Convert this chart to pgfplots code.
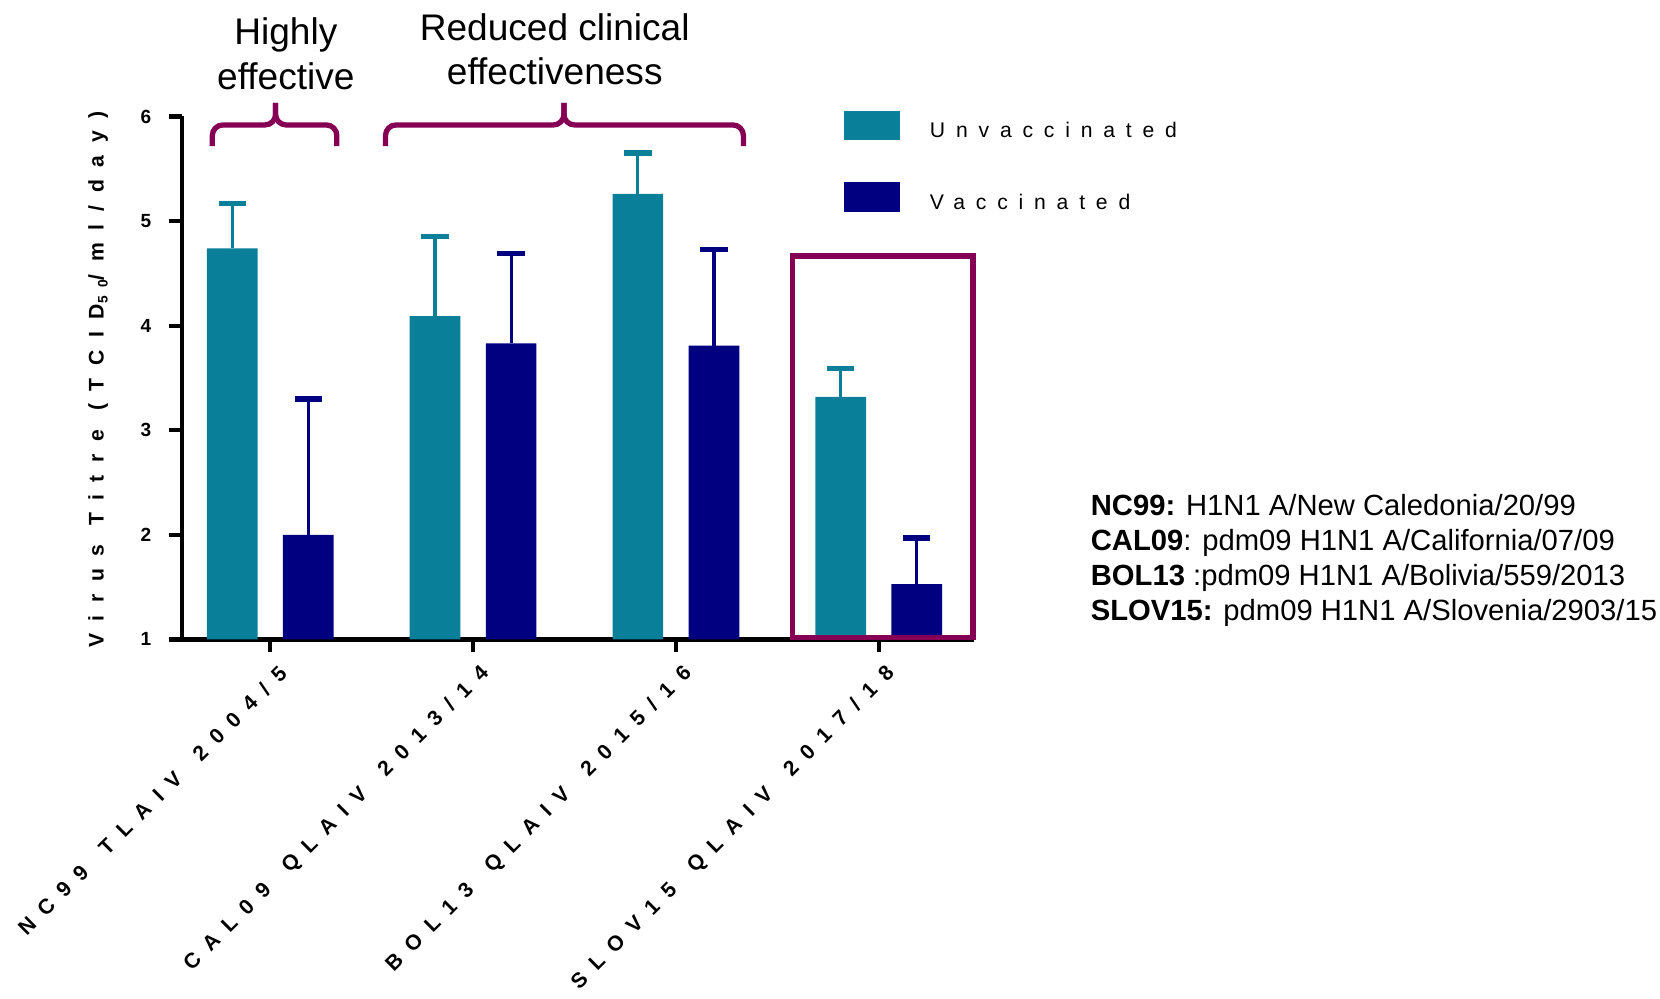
\documentclass[border=0pt]{standalone}
\usepackage{fontspec}
\setmainfont{Liberation Sans}
\newfontfamily\xfont[LetterSpace=55]{Liberation Sans}
\newfontfamily\yfont[LetterSpace=60]{Liberation Sans}
\newfontfamily\lgfont[LetterSpace=51]{Liberation Sans}
\usepackage{pgfplots}
\pgfplotsset{compat=1.18}
\definecolor{teal}{RGB}{9,127,153}
\definecolor{navyb}{RGB}{0,0,128}
\definecolor{plum}{RGB}{133,0,85}
\newcommand{\ws}{\hspace{0.35em}}
\begin{document}
\begin{tikzpicture}
\useasboundingbox (0,0) rectangle (784pt,471.5pt);
\begin{axis}[
  at={(86pt,169.5pt)}, anchor=south west,
  scale only axis, width=374pt, height=247pt,
  xmin=-0.435, xmax=3.47, ymin=1, ymax=6,
  axis x line=bottom, axis y line=left,
  axis line style={-, line width=2pt, black},
  clip mode=individual,
  xtick={0,1,2,3},
  xticklabels={NC99 \ws TLAIV \ws 2004/5, CAL09 \ws QLAIV \ws 2013/14, BOL13 \ws QLAIV \ws 2015/16, SLOV15 \ws QLAIV \ws 2017/18},
  ytick={1,2,3,4,5,6},
  /pgf/number format/assume math mode=true,
  tick align=outside, major tick length=6pt,
  tick style={line width=2pt, black},
  xticklabel style={font=\xfont\bfseries\fontsize{10}{11}\selectfont, xshift=8.5pt, yshift=-6pt, rotate=45, anchor=east},
  yticklabel style={font=\bfseries\fontsize{9}{10}\selectfont, xshift=-5pt},
  every axis y label/.style={at={(axis description cs:-0.106,0.497)}, rotate=90, anchor=center},
  ylabel={\yfont\bfseries\fontsize{10}{11}\selectfont Virus Titre (TCID\raisebox{-0.35ex}{\fontsize{6.5}{6.5}\selectfont 50}/ml/day)},
  ybar, bar width=0.25,
  legend style={at={(rel axis cs:0.8356,1.012)}, anchor=north west, draw=none, fill=none,
     font=\lgfont\fontsize{10}{12}\selectfont, row sep=17.5pt, column sep=12pt, inner sep=0pt},
  legend cell align=left,
  legend image code/.code={\fill[#1] (0pt,-4pt) rectangle (26.5pt,10pt);},
  error bars/y dir=plus, error bars/y explicit,
]
\addplot+[bar shift=-0.1875, fill=teal, draw=none,
  error bars/error bar style={teal, line width=1.5pt},
  error bars/error mark options={teal, line width=2.5pt, mark size=6.5pt, rotate=90}]
  coordinates {(0,4.74) +- (0,0.43) (1,4.09) +- (0,0.76) (2,5.26) +- (0,0.39) (3,3.32) +- (0,0.27)};
\addlegendentry{Unvaccinated}
\addplot+[bar shift=0.1875, fill=navyb, draw=none,
  error bars/error bar style={navyb, line width=1.5pt},
  error bars/error mark options={navyb, line width=2.5pt, mark size=6.5pt, rotate=90}]
  coordinates {(0,2.00) +- (0,1.30) (1,3.83) +- (0,0.86) (2,3.81) +- (0,0.92) (3,1.53) +- (0,0.44)};
\addlegendentry{Vaccinated}
% braces
\draw[plum, line width=2.5pt, rounded corners=5pt]
  (axis cs:-0.286,5.717) -- (axis cs:-0.286,5.919) -- (axis cs:0.026,5.919) -- (axis cs:0.026,6.13);
\draw[plum, line width=2.5pt, rounded corners=5pt]
  (axis cs:0.328,5.717) -- (axis cs:0.328,5.919) -- (axis cs:0.026,5.919) -- (axis cs:0.026,6.13);
\draw[plum, line width=2.5pt, rounded corners=5pt]
  (axis cs:0.568,5.717) -- (axis cs:0.568,5.919) -- (axis cs:1.448,5.919) -- (axis cs:1.448,6.13);
\draw[plum, line width=2.5pt, rounded corners=5pt]
  (axis cs:2.333,5.717) -- (axis cs:2.333,5.919) -- (axis cs:1.448,5.919) -- (axis cs:1.448,6.13);
% highlight box
\draw[plum, line width=2.5pt] (axis cs:2.576,1.016) rectangle (axis cs:3.465,4.667);
\end{axis}
\node[align=center, font=\fontsize{17.5}{21}\selectfont] at (135pt,446pt) {Highly\\effective};
\node[align=center, font=\fontsize{17.5}{21}\selectfont] at (262pt,448.25pt) {Reduced clinical\\effectiveness};
\node[align=left, anchor=north west, inner sep=0pt, font=\fontsize{13.8}{16.5}\selectfont] at (515pt,238pt)
 {\textbf{NC99:} H1N1 A/New Caledonia/20/99\\
  \textbf{CAL09}: pdm09 H1N1 A/California/07/09\\
  \textbf{BOL13} :pdm09 H1N1 A/Bolivia/559/2013\\
  \textbf{SLOV15:} pdm09 H1N1 A/Slovenia/2903/15};
\end{tikzpicture}
\end{document}
